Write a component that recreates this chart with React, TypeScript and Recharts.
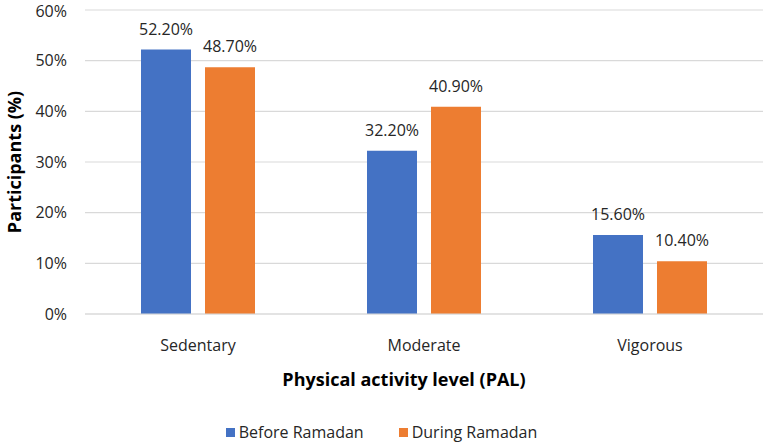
import React from 'react';
import { BarChart, Bar, XAxis, YAxis, CartesianGrid, Legend, LabelList, Label } from 'recharts';

const categories = ['Sedentary', 'Moderate', 'Vigorous'];
const beforeRamadan = [52.2, 32.2, 15.6];
const duringRamadan = [48.7, 40.9, 10.4];
const yTicks = [0, 10, 20, 30, 40, 50, 60];

const BLUE = '#4472C4';
const ORANGE = '#ED7D31';
const FONT = '"Open Sans", sans-serif';

const data = categories.map((name, i) => ({
  name,
  before: beforeRamadan[i],
  during: duringRamadan[i],
}));

const pct = (v: number) => `${v}%`;
const pct2 = (v: number) => `${Number(v).toFixed(2)}%`;

function LegendContent() {
  const items = [
    { label: 'Before Ramadan', color: BLUE },
    { label: 'During Ramadan', color: ORANGE },
  ];
  return (
    <div style={{ display: 'flex', justifyContent: 'center', gap: 35, fontFamily: FONT, fontSize: 16, color: '#262626', height: 24, alignItems: 'center' }}>
      {items.map(it => (
        <div key={it.label} style={{ display: 'flex', alignItems: 'center' }}>
          <span style={{ width: 9, height: 9, background: it.color, display: 'inline-block', marginRight: 4 }} />
          <span>{it.label}</span>
        </div>
      ))}
    </div>
  );
}

export default function App() {
  return (
    <div style={{ position: 'absolute', left: 0, top: 0, background: '#fff' }}>
      <BarChart width={765} height={444} data={data} margin={{ top: 10, right: 2, bottom: 0, left: 0 }} barSize={50} barGap={14}>
        <CartesianGrid vertical={false} stroke="#D9D9D9" strokeWidth={1.2} />
        <XAxis
          dataKey="name"
          tickLine={false}
          axisLine={{ stroke: '#D9D9D9', strokeWidth: 1.2 }}
          tickSize={0}
          tickMargin={26}
          height={106}
          tick={{ fill: '#262626', fontSize: 16, fontFamily: FONT }}
        >
          <Label
            value="Physical activity level (PAL)"
            position="insideTop"
            offset={59}
            dx={-20}
            style={{ fill: '#000', fontSize: 18, fontWeight: 700, fontFamily: FONT }}
          />
        </XAxis>
        <YAxis
          domain={[0, 60]}
          ticks={yTicks}
          tickFormatter={pct}
          tickLine={false}
          axisLine={false}
          tickSize={0}
          tickMargin={18}
          width={85}
          tick={{ fill: '#262626', fontSize: 16, fontFamily: FONT }}
        >
          <Label
            value="Participants (%)"
            angle={-90}
            position="insideLeft"
            offset={15}
            style={{ textAnchor: 'middle', fill: '#000', fontSize: 18, fontWeight: 700, fontFamily: FONT }}
          />
        </YAxis>
        <Legend verticalAlign="bottom" content={<LegendContent />} />
        <Bar dataKey="before" name="Before Ramadan" fill={BLUE} isAnimationActive={false}>
          <LabelList dataKey="before" position="top" offset={15} formatter={pct2} style={{ fill: '#262626', fontSize: 16, fontFamily: FONT }} />
        </Bar>
        <Bar dataKey="during" name="During Ramadan" fill={ORANGE} isAnimationActive={false}>
          <LabelList dataKey="during" position="top" offset={15} formatter={pct2} style={{ fill: '#262626', fontSize: 16, fontFamily: FONT }} />
        </Bar>
      </BarChart>
    </div>
  );
}
